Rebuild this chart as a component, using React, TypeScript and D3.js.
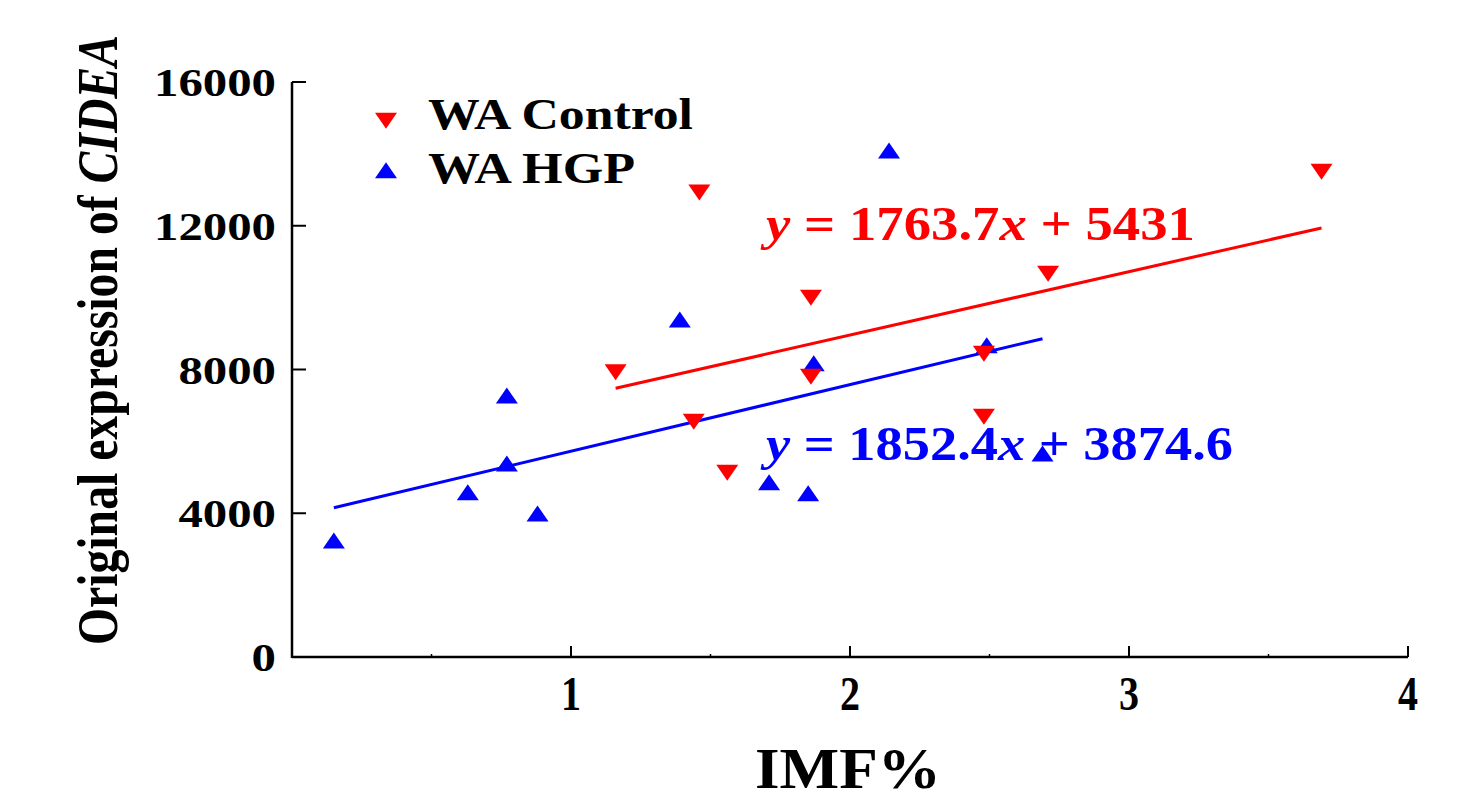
import React from "react";
import * as d3 from "d3";

// WA Control (red, down triangles)
const controlX = [1.16, 1.46, 1.44, 1.56, 1.86, 1.86, 2.48, 2.48, 2.71, 3.69];
const controlY = [8000, 13000, 6620, 5200, 10070, 7870, 8510, 6760, 10740, 13580];
// WA HGP (blue, up triangles)
const hgpX = [0.15, 0.63, 0.77, 0.77, 0.88, 1.39, 1.71, 1.85, 1.87, 2.14, 2.49, 2.69];
const hgpY = [3170, 4510, 7200, 5310, 3920, 9320, 4790, 4480, 8100, 14020, 8600, 5590];

const xTicks = [1, 2, 3, 4];
const xMinor = [0.5, 1.5, 2.5, 3.5];
const yTicks = [0, 4000, 8000, 12000, 16000];

const seriesNames = ["WA Control", "WA HGP"];
const slopes = [1763.7, 1852.4];
const intercepts = [5431, 3874.6];
const eqNumbers = ["1763.7", "1852.4"];
const eqConsts = ["5431", "3874.6"];

const FONT = "Liberation Serif";
const RED = "#ff0000";
const BLUE = "#0000ff";

const tri = (w: number, h: number, down: boolean) => {
  const s = down ? -1 : 1;
  return `M0,${(-2 * h * s) / 3}L${w / 2},${(h * s) / 3}L${-w / 2},${(h * s) / 3}Z`;
};

export default function App() {
  const width = 1463;
  const height = 802;
  const x = d3.scaleLinear().domain([0, 4]).range([292, 1408]);
  const y = d3.scaleLinear().domain([0, 16000]).range([657, 82]);

  const line = d3
    .line<number[]>()
    .x((d) => x(d[0]))
    .y((d) => y(d[1]));

  const fit = (xs: number[], i: number) => {
    const [a, b] = d3.extent(xs) as [number, number];
    return line([
      [a, slopes[i] * a + intercepts[i]],
      [b, slopes[i] * b + intercepts[i]],
    ]);
  };

  const downTri = tri(22, 16, true);
  const upTri = tri(22, 16, false);

  return (
    <svg
      width={width}
      height={height}
      style={{ position: "absolute", left: 0, top: 0, background: "#fff", fontFamily: FONT, fontWeight: "bold" }}
    >
      {/* axes */}
      <line x1={x(0)} x2={x(4)} y1={y(0)} y2={y(0)} stroke="#000" strokeWidth={2.5} />
      <line x1={x(0)} x2={x(0)} y1={y(0) + 1} y2={y(16000)} stroke="#000" strokeWidth={2.5} />
      {xTicks.map((t) => (
        <g key={t}>
          <line x1={x(t)} x2={x(t)} y1={y(0)} y2={y(0) - 11} stroke="#000" strokeWidth={2} />
          <text x={x(t)} y={710} textAnchor="middle" fontSize={49} textLength={20} lengthAdjust="spacingAndGlyphs">
            {t}
          </text>
        </g>
      ))}
      {xMinor.map((t) => (
        <line key={t} x1={x(t)} x2={x(t)} y1={y(0)} y2={y(0) - 3} stroke="#000" strokeWidth={1.5} />
      ))}
      {yTicks.map((t) => (
        <g key={t}>
          <line x1={x(0)} x2={x(0) + 14} y1={y(t)} y2={y(t)} stroke="#000" strokeWidth={2} />
          <text
            x={276}
            y={y(t) + 14}
            textAnchor="end"
            fontSize={40}
            textLength={String(t).length * 24.4}
            lengthAdjust="spacingAndGlyphs"
          >
            {t}
          </text>
        </g>
      ))}
      <text x={755} y={788} fontSize={57} textLength={186} lengthAdjust="spacingAndGlyphs">
        IMF%
      </text>
      <text
        transform="translate(117,340) rotate(-90)"
        textAnchor="middle"
        fontSize={58}
        textLength={610}
        lengthAdjust="spacingAndGlyphs"
      >
        Original expression of <tspan fontStyle="italic">CIDEA</tspan>
      </text>

      {/* regression lines */}
      <path d={fit(controlX, 0) || ""} stroke={RED} strokeWidth={3} fill="none" />
      <path d={fit(hgpX, 1) || ""} stroke={BLUE} strokeWidth={3} fill="none" />

      {/* points */}
      {hgpX.map((v, i) => (
        <path key={"h" + i} d={upTri} transform={`translate(${x(v)},${y(hgpY[i])})`} fill={BLUE} />
      ))}
      {controlX.map((v, i) => (
        <path key={"c" + i} d={downTri} transform={`translate(${x(v)},${y(controlY[i])})`} fill={RED} />
      ))}

      {/* equations */}
      <text x={766} y={240} fontSize={49} fill={RED} textLength={429} lengthAdjust="spacingAndGlyphs">
        <tspan fontStyle="italic">y</tspan> = {eqNumbers[0]}
        <tspan fontStyle="italic">x</tspan> + {eqConsts[0]}
      </text>
      <text x={766} y={460} fontSize={49} fill={BLUE} textLength={467} lengthAdjust="spacingAndGlyphs">
        <tspan fontStyle="italic">y</tspan> = {eqNumbers[1]}
        <tspan fontStyle="italic">x</tspan> + {eqConsts[1]}
      </text>

      {/* legend */}
      <path d={downTri} transform="translate(386,118)" fill={RED} />
      <path d={upTri} transform="translate(386,173)" fill={BLUE} />
      <text x={428} y={129} fontSize={44} textLength={265} lengthAdjust="spacingAndGlyphs">
        {seriesNames[0]}
      </text>
      <text x={428} y={183} fontSize={44} textLength={207} lengthAdjust="spacingAndGlyphs">
        {seriesNames[1]}
      </text>
    </svg>
  );
}
